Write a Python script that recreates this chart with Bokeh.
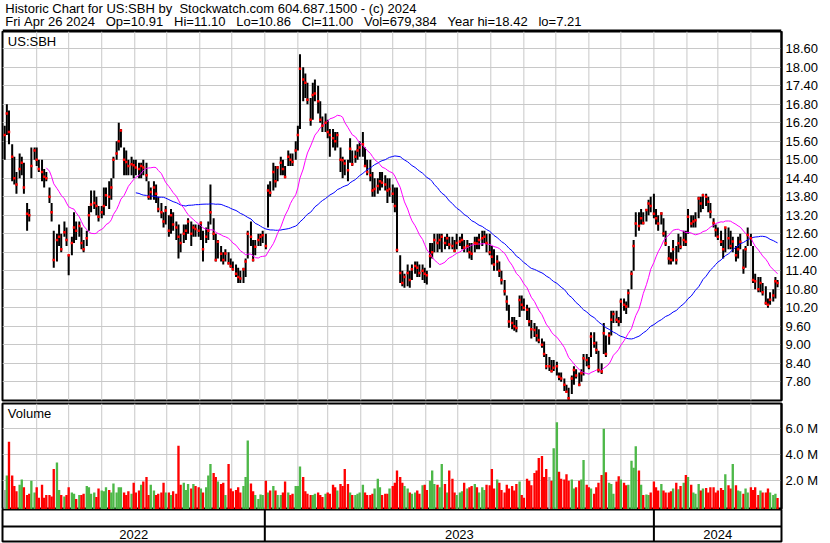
import numpy as np
import pandas as pd
from bokeh.plotting import figure
from bokeh.layouts import column
from bokeh.models import (Range1d, FixedTicker, NumeralTickFormatter, Span, Label,
                          ColumnDataSource, CustomJSTickFormatter)
from bokeh.core.properties import value
from bokeh.embed import file_html
from bokeh.resources import INLINE

# ---------------------------------------------------------------- data
header_line1 = "Historic Chart for US:SBH by  Stockwatch.com 604.687.1500 - (c) 2024"
header_line2 = "Fri Apr 26 2024   Op=10.91   Hi=11.10   Lo=10.86   Cl=11.00   Vol=679,384   Year hi=18.42   lo=7.21"
symbol = "US:SBH"
volume_title = "Volume"

first_monday = "2022-05-02"      # weekly rows below: Mon / Wed / Fri samples
sample_weekdays = [0, 2, 4]

high = [
    16.1, 16.8, 16.6,  15.5, 15.1, 14.6,  15.2, 15.1, 14.9,  13.6, 13.4, 15.4,
    15.4, 15.4, 15.0,  15.0, 14.7, 14.6,  14.1, 13.6, 12.7,  12.6, 12.9, 12.6,
    13.0, 12.8, 11.9,  12.5, 13.3, 13.0,  13.0, 12.8, 12.4,  12.7, 13.5, 14.0,
    14.0, 13.8, 13.5,  13.5, 14.1, 14.1,  14.3, 14.4, 15.1,  15.6, 16.2, 16.0,
    15.4, 15.3, 15.0,  15.1, 15.0, 15.0,  14.9, 14.9, 15.0,  14.9, 14.3, 14.1,
    14.3, 14.2, 13.8,  13.6, 13.3, 13.5,  13.2, 13.4, 13.3,  13.0, 12.9, 12.6,
    12.9, 12.9, 13.1,  13.0, 12.9, 12.9,  12.9, 13.0, 12.7,  12.8, 13.0, 14.2,
    13.1, 12.6, 12.4,  12.2, 12.0, 12.1,  12.0, 11.8, 11.7,  11.6, 11.5, 11.4,
    11.5, 11.8, 12.7,  13.0, 12.4, 12.4,  12.6, 12.6, 12.7,
    12.6, 14.2, 14.3,  14.9, 14.8, 14.8,  15.1, 15.0, 14.8,  15.3, 15.2, 15.2,
    15.6, 16.1, 18.42, 18.0, 17.8, 17.5,  17.0, 17.5, 17.6,  17.4, 16.9, 16.4,
    16.5, 16.3, 16.0,  16.0, 15.9, 15.9,  15.4, 15.1, 15.0,  15.0, 15.7, 15.3,
    15.3, 15.5, 15.6,  15.9, 15.4, 15.0,  15.0, 14.6, 14.4,  14.4, 14.6, 14.6,
    14.5, 14.4, 14.4,  14.2, 14.1, 14.1,  11.9, 11.4, 11.3,  11.6, 11.4, 11.6,
    11.7, 11.7, 11.6,  11.6, 11.5, 11.4,  12.3, 12.3, 12.6,  12.6, 12.6, 12.6,
    12.5, 12.6, 12.5,  12.5, 12.4, 12.6,  12.5, 12.6, 12.4,  12.4, 12.3, 12.3,
    12.5, 12.5, 12.6,  12.7, 12.7, 12.6,  12.6, 12.2, 12.1,  11.9, 11.7, 11.4,
    11.1, 10.6, 10.3,  9.9, 9.9, 9.8,     10.6, 10.6, 10.5,  10.3, 10.2, 9.8,
    9.7, 9.6, 9.5,     9.2, 9.1, 8.7,     8.6, 8.5, 8.5,     8.45, 8.1, 8.1,
    7.9, 7.7, 7.6,     8.0, 8.3, 8.2,     8.1, 8.2, 8.7,     8.7, 8.6, 9.4,
    9.4, 9.1, 8.8,     8.4, 9.7, 9.3,     9.4, 10.1, 10.1,   10.1, 9.9, 10.5,
    10.5, 10.4, 10.8,  11.4, 12.4, 13.3,  13.3, 13.4, 13.3,  13.4, 13.7, 13.8,
    13.9, 13.4, 13.2,  13.3, 13.1, 12.7,  12.2, 12.0, 12.4,  12.2, 12.6, 12.5,
    12.7, 12.7, 13.4,  13.2, 13.2, 13.3,  13.8, 13.8, 13.9,  13.9, 13.8, 13.6,
    13.1, 12.9, 12.8,  12.7, 12.4, 12.8,  12.8, 12.7, 12.5,  12.2, 12.5, 12.6,
    12.1, 12.2, 12.8,  12.6, 12.2, 11.3,  11.2, 11.2, 11.0,  10.9, 10.5, 10.7,
    10.8, 11.2, 11.10,
]

low = [
    15.0, 15.8, 15.5,  14.3, 14.2, 13.9,  14.4, 14.5, 13.9,  12.7, 13.0, 14.4,
    15.0, 14.8, 14.6,  14.3, 14.1, 14.3,  13.6, 13.0, 11.5,  11.7, 12.2, 12.0,
    12.5, 12.2, 11.25, 11.9, 12.3, 12.4,  12.5, 12.1, 12.0,  12.2, 12.7, 13.3,
    13.4, 13.2, 13.0,  13.1, 13.2, 13.5,  13.4, 13.7, 14.4,  15.0, 15.3, 15.4,
    14.5, 14.5, 14.5,  14.5, 14.4, 14.5,  14.4, 14.4, 14.5,  14.3, 13.7, 13.7,
    13.7, 13.6, 13.3,  13.1, 12.8, 12.9,  12.5, 12.6, 12.7,  12.4, 11.8, 12.0,
    12.3, 12.4, 12.6,  12.2, 12.5, 12.5,  12.5, 12.4, 11.7,  12.3, 12.4, 12.9,
    12.4, 11.7, 11.8,  11.7, 11.6, 11.7,  11.6, 11.5, 11.4,  11.2, 11.0, 11.0,
    11.0, 11.2, 11.8,  12.2, 11.7, 11.9,  12.2, 12.2, 12.3,
    12.1, 12.8, 13.8,  14.0, 14.1, 14.3,  14.5, 14.5, 14.4,  14.8, 14.8, 14.8,
    15.0, 15.3, 16.0,  16.9, 17.0, 16.8,  16.1, 16.3, 16.9,  16.5, 16.2, 15.9,
    15.9, 15.7, 15.1,  15.4, 15.3, 15.4,  14.6, 14.4, 14.5,  14.3, 14.9, 14.8,
    14.9, 15.0, 15.1,  15.1, 14.8, 14.5,  14.3, 13.8, 13.8,  13.9, 14.0, 14.1,
    14.0, 13.6, 13.8,  13.6, 13.3, 12.0,  11.0, 10.9, 10.85, 10.9, 10.85, 11.1,
    11.3, 11.2, 11.2,  11.1, 11.0, 10.95, 11.5, 11.8, 12.0,  12.0, 12.1, 12.0,
    12.1, 12.2, 12.1,  12.1, 12.0, 12.1,  12.2, 12.1, 12.0,  12.0, 11.8, 11.75,
    12.0, 12.1, 12.1,  12.2, 12.3, 12.0,  11.9, 11.6, 11.4,  11.4, 11.2, 10.95,
    10.6, 10.1, 9.55,  9.5, 9.45, 9.4,    9.9, 10.1, 10.1,   9.8, 9.6, 9.2,
    9.25, 9.1, 9.05,   8.9, 8.6, 8.2,     8.15, 8.1, 8.15,   8.0, 7.85, 7.8,
    7.5, 7.45, 7.21,   7.4, 7.7, 7.9,     7.65, 7.8, 8.0,    8.3, 8.2, 8.6,
    8.9, 8.7, 8.1,     8.05, 8.7, 8.6,    9.0, 9.3, 9.7,     9.7, 9.6, 9.7,
    10.1, 10.0, 10.2,  10.8, 11.4, 12.5,  12.7, 12.9, 12.9,  13.0, 13.2, 13.3,
    13.1, 12.9, 12.7,  12.9, 12.5, 12.2,  11.6, 11.6, 11.7,  11.6, 12.0, 12.1,
    12.2, 12.2, 12.6,  12.8, 12.8, 12.8,  13.1, 13.3, 13.4,  13.5, 13.3, 13.1,
    12.8, 12.5, 12.4,  12.2, 11.8, 12.0,  12.1, 12.1, 12.0,  11.7, 11.8, 12.1,
    11.3, 11.5, 12.2,  12.2, 11.0, 10.8,  10.7, 10.7, 10.6,  10.3, 10.2, 10.3,
    10.4, 10.5, 10.86,
]

close = [
    15.8, 16.5, 15.9,  15.1, 14.4, 14.2,  14.7, 14.9, 14.1,  13.25, 13.2, 14.8,
    15.3, 15.0, 14.7,  14.6, 14.45, 14.4, 13.8, 13.3, 11.75, 12.4, 12.5, 12.1,
    12.65, 12.4, 11.9, 12.3, 12.8, 12.7,  12.85, 12.3, 12.1, 12.45, 13.2, 13.55,
    13.6, 13.5, 13.15, 13.3, 13.5, 13.85, 13.8, 14.1, 15.0,  15.2, 15.6, 15.95,
    15.0, 14.93, 14.8, 14.85, 14.82, 14.75, 14.7, 14.8, 14.75, 14.5, 13.8, 13.95,
    14.1, 13.9, 13.4,  13.3, 13.0, 13.35, 12.7, 13.2, 12.9,  12.8, 12.5, 12.3,
    12.6, 12.7, 13.0,  12.6, 12.8, 12.75, 12.7, 12.95, 12.1, 12.5, 12.7, 13.3,
    12.6, 11.75, 12.34, 11.95, 11.75, 11.96, 11.64, 11.55, 11.45, 11.3, 11.2, 11.15,
    11.45, 11.7, 12.6, 12.5, 11.75, 12.18, 12.4, 12.5, 12.55,
    12.2, 14.0, 13.93, 14.6, 14.3, 14.75, 14.9, 14.7, 14.44, 15.1, 15.0, 14.93,
    15.3, 15.8, 17.95, 17.6, 17.5, 16.95, 16.3, 17.1, 17.15, 16.9, 16.3, 16.1,
    16.2, 15.9, 15.8,  15.7, 15.6, 15.8,  15.0, 14.98, 14.88, 14.66, 15.36, 14.85,
    15.1, 15.3, 15.4,  15.5, 14.8, 14.6,  14.5, 14.0, 14.05, 14.15, 14.3, 14.25,
    14.2, 14.0, 14.05, 13.9, 13.5, 12.07, 11.33, 11.0, 11.2, 11.33, 11.1, 11.45,
    11.55, 11.5, 11.33, 11.4, 11.3, 11.25, 11.88, 12.0, 12.4, 12.3, 12.4, 12.5,
    12.3, 12.45, 12.25, 12.2, 12.05, 12.3, 12.35, 12.4, 12.15, 12.2, 12.0, 11.95,
    12.3, 12.28, 12.4, 12.45, 12.5, 12.3, 12.0, 11.85, 11.6, 11.7, 11.4, 11.1,
    10.73, 10.4, 9.75, 9.7, 9.6, 9.54,   10.45, 10.3, 10.2,  10.13, 9.75, 9.5,
    9.48, 9.3, 9.15,   9.0, 8.7, 8.3,     8.3, 8.15, 8.25,   8.3, 7.96, 7.9,
    7.7, 7.47, 7.26,   7.9, 8.18, 8.0,    7.7, 8.07, 8.56,   8.5, 8.29, 9.27,
    9.05, 8.83, 8.18,  8.13, 9.37, 8.7,   9.3, 9.81, 10.0,   9.81, 9.75, 10.4,
    10.3, 10.24, 10.68, 11.3, 12.2, 12.93, 12.85, 13.1, 12.95, 13.37, 13.58, 13.5,
    13.25, 13.1, 12.93, 13.26, 12.61, 12.29, 11.8, 11.75, 12.1, 11.75, 12.29, 12.18,
    12.4, 12.34, 13.15, 12.93, 13.0, 13.04, 13.74, 13.58, 13.85, 13.8, 13.64, 13.31,
    12.95, 12.72, 12.5, 12.34, 12.1, 12.8, 12.45, 12.2, 12.35, 11.9, 12.1, 12.34,
    11.5, 12.1, 12.56, 12.45, 11.1, 11.06, 10.8, 11.0, 10.7, 10.35, 10.3, 10.46,
    10.6, 11.06, 11.00,
]

volume_m = [   # millions of shares
    1.3, 2.4, 5.0,  2.4, 1.6, 1.2,  1.7, 2.1, 1.5,  0.9, 1.0, 2.0,
    1.1, 1.5, 0.7,  1.7, 0.7, 0.9,  0.9, 0.8, 2.9,  3.4, 1.3, 0.9,
    0.8, 0.9, 1.5,  1.1, 1.0, 0.6,  0.9, 0.9, 1.0,  1.6, 1.5, 1.0,
    1.1, 0.75, 1.4, 1.25, 1.2, 1.5, 1.3, 1.1, 1.8,  1.1, 1.5, 1.5,
    1.1, 0.9, 1.2,  1.0, 1.85, 1.1, 1.25, 1.7, 1.95, 2.3, 0.9, 1.7,
    1.25, 0.9, 1.0, 1.1, 1.85, 1.1, 1.1, 0.9, 1.2,  1.0, 4.7, 1.7,
    1.85, 1.3, 1.75, 1.4, 1.75, 1.6, 1.5, 1.4, 1.1, 1.5, 2.4, 3.3,
    2.6, 2.3, 1.95, 1.75, 1.85, 0.9, 3.3, 1.4, 1.2, 1.3, 1.5, 1.1,
    1.6, 2.3, 5.1,  1.8, 1.2, 0.9,  0.6, 0.95, 0.9,
    2.0, 1.1, 1.25, 1.6, 1.25, 0.9, 0.9, 1.1, 1.95, 1.1, 0.9, 1.0,
    1.6, 1.6, 3.1,  2.3, 1.2, 1.0,  0.9, 0.9, 1.0,  1.1, 0.9, 0.75,
    1.0, 1.1, 1.0,  1.7, 1.5, 1.25, 1.75, 1.6, 2.9, 1.75, 1.1, 0.9,
    0.9, 1.0, 1.1,  1.7, 1.1, 0.9,  0.9, 1.0, 1.4,  2.15, 1.5, 0.9,
    1.0, 1.0, 1.4,  1.6, 1.85, 2.8, 2.3, 1.85, 1.6, 1.4, 1.1, 1.0,
    1.1, 1.25, 1.0, 1.65, 1.7, 1.3, 2.0, 2.8, 1.75, 1.7, 1.5, 3.3,
    1.75, 1.1, 2.8, 2.15, 1.1, 0.9, 1.1, 1.2, 1.85, 1.4, 1.5, 1.6,
    1.75, 1.5, 1.1, 1.5, 1.3, 1.7,  1.65, 2.9, 1.4, 2.1, 1.85, 1.3,
    1.1, 1.7, 1.4,  1.6, 1.25, 1.75, 1.95, 0.9, 0.7, 2.15, 2.0, 1.65,
    2.6, 2.8, 3.75, 3.9, 2.3, 2.9,  2.3, 2.0, 4.5,  6.5, 2.7, 2.15,
    2.1, 2.5, 2.0,  2.1, 1.4, 1.5,  2.0, 2.1, 3.6,  1.7, 1.5, 1.4,
    1.0, 1.5, 1.85, 2.45, 6.0, 2.65, 1.85, 1.75, 1.0, 1.95, 2.35, 2.1,
    1.85, 1.65, 1.7, 3.55, 3.0, 4.65, 2.8, 1.7, 0.9, 0.95, 0.9, 1.1,
    1.95, 1.5, 1.25, 1.75, 1.25, 1.1, 1.1, 1.2, 1.4, 1.85, 1.35, 1.6,
    1.85, 2.45, 2.3, 1.7, 1.1, 1.0,  1.75, 1.25, 1.4, 1.45, 1.1, 1.5,
    1.5, 1.1, 1.25, 1.45, 1.3, 2.5,  1.65, 1.4, 3.3, 1.65, 1.25, 1.2,
    1.0, 1.4, 1.1,  1.5, 1.3, 1.5,  0.9, 1.25, 1.1, 1.1, 1.4, 1.1,
    0.9, 1.0, 0.68,
]

price_ticks = [7.80, 8.40, 9.00, 9.60, 10.20, 10.80, 11.40, 12.00, 12.60, 13.20,
               13.80, 14.40, 15.00, 15.60, 16.20, 16.80, 17.40, 18.00, 18.60]
volume_ticks_m = [2.0, 4.0, 6.0]
years = ["2022", "2023", "2024"]
ma_short_window = 18   # samples (about 30 trading days)
ma_long_window = 54    # samples (about 90 trading days)

# ---------------------------------------------------------------- derived
n = len(close)
assert len(high) == n and len(low) == n and len(volume_m) == n, (len(high), len(low), n, len(volume_m))

DAY = 86400000
def ms(s):
    return pd.Timestamp(s).value // 10**6

mondays = pd.date_range(first_monday, periods=n // 3, freq="7D")
dates = pd.DatetimeIndex([m + pd.Timedelta(days=d) for m in mondays for d in sample_weekdays])
xs = dates.asi8 // 10**6

closes = pd.Series(close, dtype=float)
ma_s = closes.rolling(ma_short_window).mean()
ma_l = closes.rolling(ma_long_window).mean()
prev = closes.shift(1)
vcol = []
for c, p0 in zip(closes, prev):
    if np.isnan(p0) or c == p0:
        vcol.append("#A8A8A8")
    elif c < p0:
        vcol.append("#FF0000")
    else:
        vcol.append("#4DB848")

src = ColumnDataSource(dict(x=xs, high=high, low=low, close=close,
                            vol=[v * 1e6 for v in volume_m], vcol=vcol,
                            ma_s=ma_s.values, ma_l=ma_l.values))

x_start = ms("2022-04-29 22:00")
x_end = ms("2024-04-29 17:00")
month_starts = pd.date_range("2022-06-01", "2024-04-01", freq="MS").asi8 // 10**6
year_bounds = [ms("2023-01-01"), ms("2024-01-01")]
year_centers = [(x_start + year_bounds[0]) / 2, (year_bounds[0] + year_bounds[1]) / 2,
                (year_bounds[1] + x_end) / 2]

# ---------------------------------------------------------------- figures
W = 830
FONT = "Liberation Sans"
GRID = "#C8C8C8"
xr = Range1d(x_start, x_end)


def base(height, y_range, **kw):
    p = figure(width=W, height=height, x_range=xr, y_range=y_range,
               x_axis_type="datetime", x_axis_location=None,
               output_backend="svg", toolbar_location=None,
               min_border_left=2, min_border_right=49, **kw)
    p.background_fill_color = "white"
    p.border_fill_color = "white"
    p.outline_line_color = "black"
    p.outline_line_width = 2
    p.xgrid.visible = False
    return p


def style_axis(ax):
    ax.axis_line_color = "black"
    ax.axis_line_width = 2
    ax.major_tick_line_color = None
    ax.minor_tick_line_color = None
    ax.major_tick_out = 0
    ax.major_tick_in = 0
    ax.major_label_standoff = 4
    ax.major_label_text_font = FONT
    ax.major_label_text_font_size = "13px"
    ax.major_label_text_color = "black"


# header
HH = 31
header = figure(width=W, height=HH, x_range=Range1d(0, W), y_range=Range1d(HH, 0),
                x_axis_location=None, y_axis_location=None, output_backend="svg",
                toolbar_location=None, min_border=0)
header.grid.visible = False
header.outline_line_color = None
header.text(x=[3, 3], y=[8, 21],
            text=[header_line1.replace(" ", "\u00a0"), header_line2.replace(" ", "\u00a0")],
            text_font=value(FONT), text_font_size="13px", text_baseline="middle",
            text_align="left", text_color="black")
header.add_layout(Span(location=30, dimension="width", line_color="black", line_width=2))

# price panel
price = base(371, Range1d(7.19, 19.16), y_axis_location="right",
             min_border_top=0, min_border_bottom=2)
price.ygrid.grid_line_color = GRID
pax = price.yaxis[0]
pax.ticker = FixedTicker(ticks=price_ticks)
pax.formatter = NumeralTickFormatter(format="0.00")
style_axis(pax)
for m in month_starts:
    price.add_layout(Span(location=int(m), dimension="height", line_color=GRID,
                          line_width=1, level="underlay"))
price.segment(x0="x", y0="low", x1="x", y1="high", source=src,
              line_color="black", line_width=2)
price.line("x", "ma_l", source=src, line_color="#0000FF", line_width=1)
price.line("x", "ma_s", source=src, line_color="#FF00FF", line_width=1)
price.scatter("x", "close", source=src, marker="square", size=2.5,
              fill_color="#FF0000", line_color=None)
price.add_layout(Label(x=x_start + 5 * DAY, y=18.84, text=symbol, text_font=FONT,
                       text_font_size="13px", text_baseline="middle", text_color="black"))

# volume panel
v_lo, v_hi = -0.21e6, 7.95e6
vol = base(107, Range1d(v_lo, v_hi), y_axis_location="right",
           min_border_top=1, min_border_bottom=0)
vol.ygrid.grid_line_color = GRID
vax = vol.yaxis[0]
vax.ticker = FixedTicker(ticks=[v * 1e6 for v in volume_ticks_m])
vax.formatter = CustomJSTickFormatter(code="return (tick / 1e6).toFixed(1) + ' M';")
style_axis(vax)
for m in month_starts:
    vol.add_layout(Span(location=int(m), dimension="height", line_color=GRID,
                        line_width=1, level="underlay"))
vol.vbar(x="x", top="vol", bottom=v_lo, width=2.2 * DAY, source=src,
         fill_color="vcol", line_color=None)
vol.add_layout(Label(x=x_start + 5 * DAY, y=7.18e6, text=volume_title, text_font=FONT,
                     text_font_size="13px", text_baseline="middle", text_color="black"))

# date strip
datef = base(34, Range1d(0, 2), y_axis_location=None, min_border_top=0, min_border_bottom=2)
datef.grid.visible = False
datef.add_layout(Span(location=0.94, dimension="width", line_color="black", line_width=2))
for b in year_bounds:
    datef.add_layout(Span(location=b, dimension="height", line_color="black", line_width=2))
datef.text(x=year_centers, y=[0.44] * 3, text=years, text_font=value(FONT),
           text_font_size="13px", text_align="center", text_baseline="middle",
           text_color="black")

layout = column(header, price, vol, datef, spacing=0)
open("out.html", "w").write(file_html(layout, INLINE, "US:SBH"))
